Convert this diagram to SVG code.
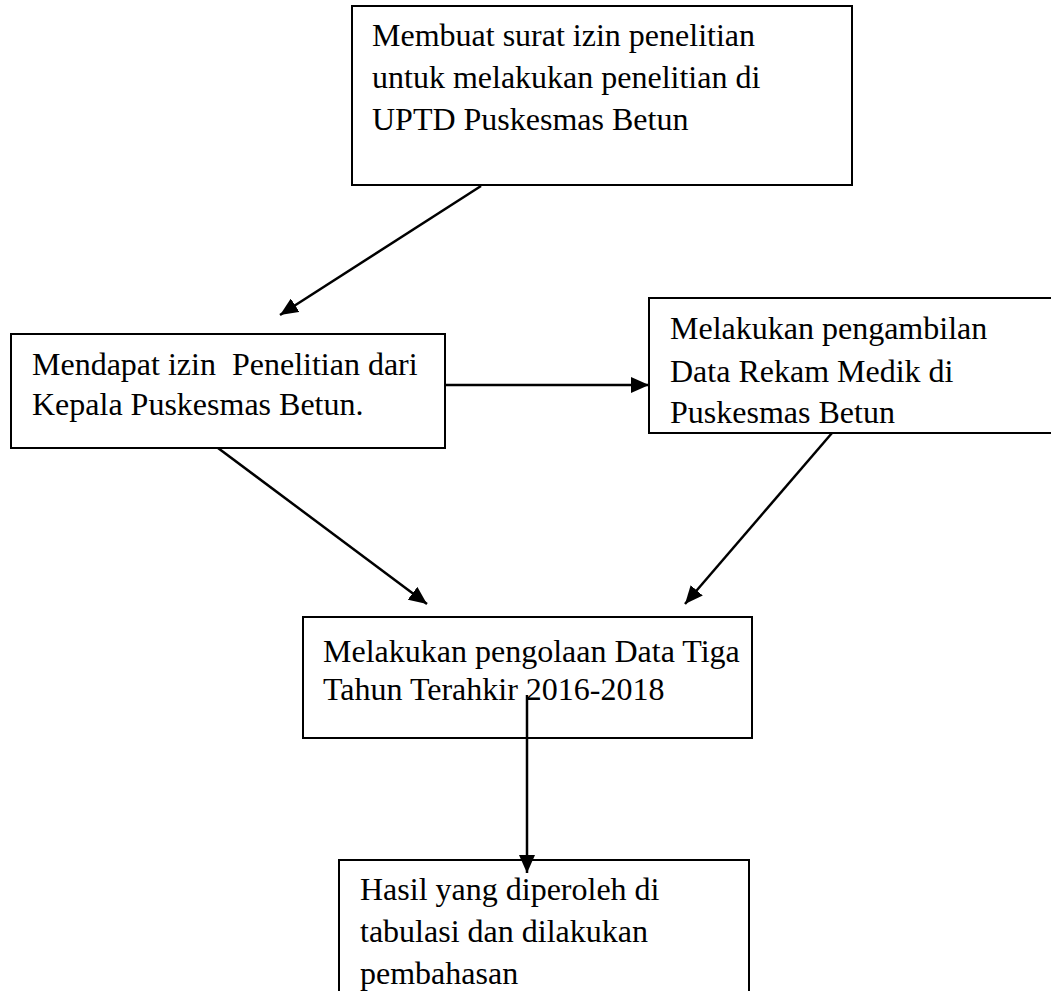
<svg xmlns="http://www.w3.org/2000/svg" width="1051" height="991" viewBox="0 0 1051 991">
<defs>
<style>
.box{fill:#fff;stroke:#000;stroke-width:2}
.t{font-family:"Liberation Serif","Times New Roman",serif;font-size:32px;fill:#000;white-space:pre}
.c{stroke:#000;stroke-width:2.5;fill:none;marker-end:url(#ah)}
</style>
<marker id="ah" markerUnits="userSpaceOnUse" markerWidth="20" markerHeight="16" refX="18" refY="8" orient="auto">
<path d="M0,0 L18,8 L0,16 z" fill="#000"/>
</marker>
</defs>
<rect width="1051" height="991" fill="#fff"/>
<g id="n1">
<rect class="box" x="352" y="6" width="500" height="179"/>
<text class="t" x="372" y="46">Membuat surat izin penelitian</text>
<text class="t" x="372" y="88">untuk melakukan penelitian di</text>
<text class="t" x="372" y="130">UPTD Puskesmas Betun</text>
</g>
<g id="n2">
<rect class="box" x="11" y="334" width="434" height="114"/>
<text class="t" x="32" y="375" xml:space="preserve">Mendapat izin  Penelitian dari</text>
<text class="t" x="32" y="415">Kepala Puskesmas Betun.</text>
</g>
<g id="n3">
<rect class="box" x="649" y="298" width="420" height="135"/>
<text class="t" x="670" y="339">Melakukan pengambilan</text>
<text class="t" x="670" y="382">Data Rekam Medik di</text>
<text class="t" x="670" y="423">Puskesmas Betun</text>
</g>
<g id="n4">
<rect class="box" x="303" y="617" width="449" height="121"/>
<text class="t" x="323" y="662">Melakukan pengolaan Data Tiga</text>
<text class="t" x="323" y="700">Tahun Terahkir 2016-2018</text>
</g>
<g id="n5">
<rect class="box" x="339" y="860" width="410" height="160"/>
<text class="t" x="360" y="900">Hasil yang diperoleh di</text>
<text class="t" x="360" y="942">tabulasi dan dilakukan</text>
<text class="t" x="360" y="984">pembahasan</text>
</g>
<g id="connectors">
<line class="c" x1="481" y1="186" x2="280" y2="315"/>
<line class="c" x1="445" y1="385" x2="649" y2="385"/>
<line class="c" x1="218" y1="448" x2="427" y2="604"/>
<line class="c" x1="832" y1="433" x2="685" y2="604"/>
<line class="c" x1="527" y1="695" x2="527" y2="873"/>
</g>
</svg>
